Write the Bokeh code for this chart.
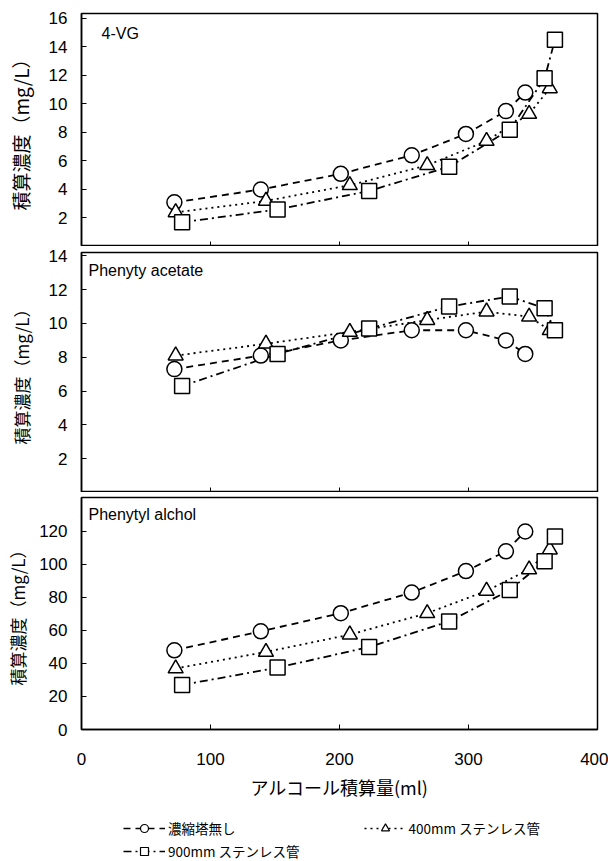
from bokeh.plotting import figure
from bokeh.layouts import column
from bokeh.models import Range1d, Label, Legend, LegendItem, FixedTicker
from bokeh.embed import file_html
from bokeh.resources import INLINE

# ---- data ----
x_none = [72, 139, 201, 256, 298, 329, 344]
x_400 = [73, 143, 208, 268, 314, 347, 363]
x_900 = [78, 152, 223, 285, 332, 359, 367]

vg_none = [3.1, 4.0, 5.1, 6.4, 7.9, 9.5, 10.8]
vg_400 = [2.4, 3.2, 4.3, 5.7, 7.4, 9.3, 11.1]
vg_900 = [1.7, 2.6, 3.9, 5.6, 8.2, 11.8, 14.5]

pa_none = [7.3, 8.1, 9.0, 9.6, 9.6, 9.0, 8.2]
pa_400 = [8.1, 8.8, 9.5, 10.2, 10.7, 10.4, 9.6]
pa_900 = [6.3, 8.2, 9.7, 11.0, 11.6, 10.9, 9.6]

pl_none = [48, 59.5, 70.5, 83, 96, 108, 120]
pl_400 = [37, 47, 57.5, 70.5, 84, 97, 109]
pl_900 = [27, 37.5, 50, 65.5, 84.5, 102, 117]

panel_names = ["4-VG", "Phenyty acetate", "Phenytyl alchol"]
series_names = ["濃縮塔無し", "400mm ステンレス管", "900mm ステンレス管"]
x_ticks = [0, 100, 200, 300, 400]
y_ticks_vg = [2, 4, 6, 8, 10, 12, 14, 16]
y_ticks_pa = [2, 4, 6, 8, 10, 12, 14]
y_ticks_pl = [0, 20, 40, 60, 80, 100, 120]
y_title = "積算濃度（mg/L）"
x_title = "アルコール積算量(ml)"

JP = "Noto Sans CJK JP"
NUM = "Liberation Sans"

styles = [
    dict(dash="7 5", marker="circle", size=15),
    dict(dash="2 4", marker="triangle", size=15),
    dict(dash="8 4 2 4", marker="square", size=15),
]


def make_panel(height, top, bottom, ymax, yticks, ys, name, show_x, ystandoff,
               ytitle_size, label_x, label_off):
    p = figure(width=608, height=height, x_range=Range1d(0, 400), y_range=Range1d(0, ymax),
               output_backend="svg", toolbar_location=None,
               min_border_left=81, min_border_right=11, min_border_top=top, min_border_bottom=bottom)
    p.grid.visible = False
    p.outline_line_color = "black"
    p.outline_line_width = 1.5
    p.background_fill_color = "white"
    p.border_fill_color = "white"
    for ax in (p.xaxis[0], p.yaxis[0]):
        ax.axis_line_color = "black"
        ax.axis_line_width = 1.5
        ax.major_tick_out = 0
        ax.major_tick_in = 5
        ax.minor_tick_out = 0
        ax.minor_tick_in = 0
        ax.major_tick_line_color = "black"
        ax.major_label_text_font = NUM
        ax.major_label_text_font_size = "17px"
        ax.major_label_text_color = "black"
    p.xaxis.ticker = FixedTicker(ticks=x_ticks)
    p.yaxis.ticker = FixedTicker(ticks=yticks)
    p.yaxis.major_label_standoff = 14
    p.yaxis.axis_label = y_title
    p.yaxis.axis_label_text_font = JP
    p.yaxis.axis_label_text_font_style = "normal"
    p.yaxis.axis_label_text_font_size = ytitle_size
    p.yaxis.axis_label_text_color = "black"
    p.yaxis.axis_label_standoff = ystandoff
    if show_x:
        p.xaxis.major_label_standoff = 23
        p.xaxis.axis_label = x_title
        p.xaxis.axis_label_text_font = JP
        p.xaxis.axis_label_text_font_style = "normal"
        p.xaxis.axis_label_text_font_size = "18px"
        p.xaxis.axis_label_text_color = "black"
        p.xaxis.axis_label_standoff = 6
    else:
        p.xaxis.major_label_text_font_size = "1px"
        p.xaxis.major_label_text_alpha = 0
        p.xaxis.major_label_standoff = 0

    xs = [x_none, x_400, x_900]
    for x, y, st in zip(xs, ys, styles):
        p.line(x, y, line_color="black", line_width=1.8, line_dash=st["dash"])
    for x, y, st in zip(xs, ys, styles):
        p.scatter(x, y, marker=st["marker"], size=st["size"], fill_color="white",
                  line_color="black", line_width=1.5)
    frame_h = height - top - bottom
    p.add_layout(Label(x=label_x, y=frame_h - label_off, x_units="screen", y_units="screen",
                       text=name, text_font=NUM, text_font_size="16px", text_color="black",
                       text_baseline="middle"))
    return p


p1 = make_panel(246, 13, 0, 16.35, y_ticks_vg, [vg_none, vg_400, vg_900], panel_names[0],
                False, 12, "19px", 20, 20)
p2 = make_panel(246, 6, 0, 14.2, y_ticks_pa, [pa_none, pa_400, pa_900], panel_names[1],
                False, 12, "17px", 7, 18)
p3 = make_panel(313, 5, 76, 140.6, y_ticks_pl, [pl_none, pl_400, pl_900], panel_names[2],
                True, 6, "17px", 7, 17)

# legend figure: sample renderers use real data but sit outside the visible range
p4 = figure(width=608, height=56, x_range=Range1d(0, 400), y_range=Range1d(1000, 1001),
            output_backend="svg", toolbar_location=None, x_axis_type=None, y_axis_type=None,
            min_border_left=81, min_border_right=11, min_border_top=0, min_border_bottom=0)
p4.grid.visible = False
p4.outline_line_color = None
items = []
for st, nm, xx, yy in zip(styles, series_names, [x_none, x_400, x_900], [vg_none, vg_400, vg_900]):
    lr = p4.line(xx, yy, line_color="black", line_width=1.5, line_dash=st["dash"])
    sr = p4.scatter(xx, yy, marker=st["marker"], size=8, fill_color="white",
                    line_color="black", line_width=1.2)
    items.append(LegendItem(label=nm, renderers=[lr, sr]))


def make_legend(its, loc):
    return Legend(items=its, location=loc, orientation="horizontal",
                  label_text_font=JP, label_text_font_size="13.5px", label_text_color="black",
                  glyph_width=42, glyph_height=20, label_height=20, label_standoff=3,
                  padding=0, margin=0, spacing=128, border_line_color=None,
                  background_fill_alpha=0)


p4.add_layout(make_legend(items[:2], (42, 23)))
p4.add_layout(make_legend(items[2:], (42, 0)))

layout = column(p1, p2, p3, p4, spacing=0)
open("out.html", "w").write(file_html(layout, INLINE))
